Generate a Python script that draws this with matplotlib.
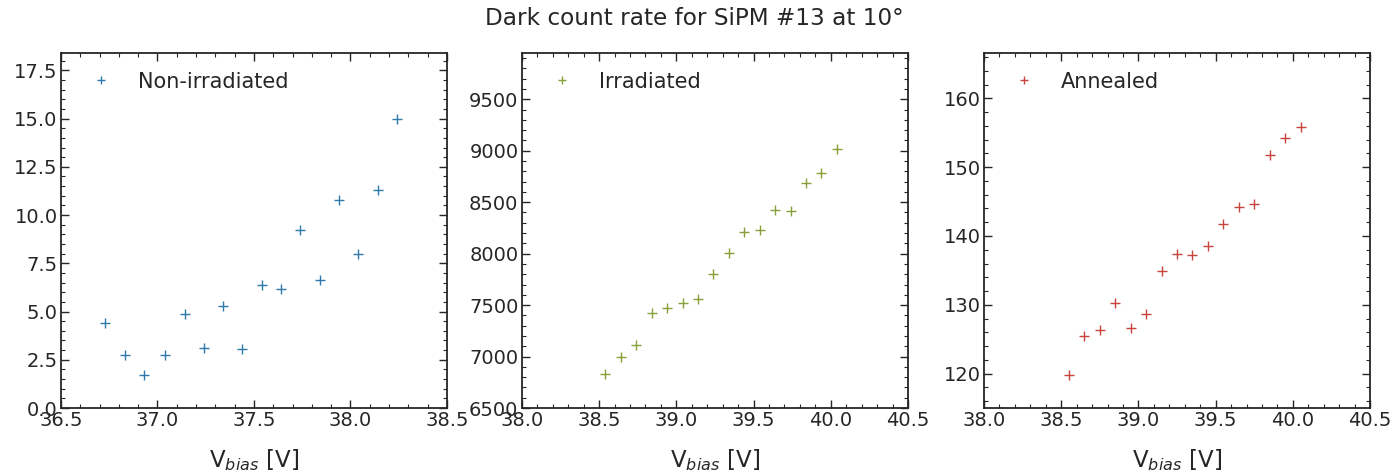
import matplotlib
matplotlib.use("Agg")
import matplotlib.pyplot as plt
from matplotlib.ticker import AutoMinorLocator

title = "Dark count rate for SiPM #13 at 10°"
xlabel = "V$_{bias}$ [V]"

x_non = [36.73, 36.83, 36.93, 37.04, 37.14, 37.24, 37.34, 37.44,
         37.54, 37.64, 37.74, 37.84, 37.94, 38.04, 38.14, 38.24]
y_non = [4.4, 2.75, 1.7, 2.75, 4.85, 3.1, 5.3, 3.05,
         6.35, 6.15, 9.2, 6.65, 10.8, 8.0, 11.3, 15.0]

x_irr = [38.54, 38.64, 38.74, 38.84, 38.94, 39.04, 39.14, 39.24,
         39.34, 39.44, 39.54, 39.64, 39.74, 39.84, 39.94, 40.04]
y_irr = [6830, 7000, 7110, 7420, 7470, 7520, 7560, 7800,
         8010, 8210, 8230, 8420, 8410, 8690, 8780, 9020]

x_ann = [38.55, 38.65, 38.75, 38.85, 38.95, 39.05, 39.15, 39.25,
         39.35, 39.45, 39.55, 39.65, 39.75, 39.85, 39.95, 40.05]
y_ann = [119.8, 125.4, 126.4, 130.2, 126.7, 128.7, 134.9, 137.4,
         137.2, 138.5, 141.8, 144.2, 144.6, 151.7, 154.3, 155.9]

labels = ["Non-irradiated", "Irradiated", "Annealed"]
colors = ["#2f7aab", "#87a03c", "#c9453c"]
xlims = [(36.5, 38.5), (38.0, 40.5), (38.0, 40.5)]
ylims = [(0, 18.4), (6500, 9950), (115, 166.6)]

FS_TICK = 14
FS_LEG = 15
FS_LAB = 16.5
FS_TITLE = 16.7
TXT = '#262626'
plt.rcParams['font.family'] = ['DejaVu Sans']

fig = plt.figure(figsize=(13.99, 4.73), dpi=100)
lefts = [0.0436, 0.3731, 0.7034]
width = 0.2759
bottom = 0.1374
height = 0.888 - 0.1374

data = [(x_non, y_non), (x_irr, y_irr), (x_ann, y_ann)]
for i, ((xs, ys), lab, col) in enumerate(zip(data, labels, colors)):
    ax = fig.add_axes([lefts[i], bottom, width, height])
    ax.plot(xs, ys, linestyle='none', marker='+', color=col, markersize=7,
            markeredgewidth=1.0, label=lab)
    ax.set_xlim(*xlims[i])
    ax.set_ylim(*ylims[i])
    ax.xaxis.set_minor_locator(AutoMinorLocator(5))
    ax.yaxis.set_minor_locator(AutoMinorLocator(5))
    ax.tick_params(which='both', direction='in', top=True, right=True,
                   labelsize=FS_TICK, colors=TXT, pad=2.5)
    ax.tick_params(which='major', length=6, width=1)
    ax.tick_params(which='minor', length=3, width=0.8)
    for s in ax.spines.values():
        s.set_linewidth(1.3)
        s.set_color(TXT)
    ax.set_xlabel(xlabel, fontsize=FS_LAB, color=TXT, labelpad=12)
    leg = ax.legend(loc='upper left', frameon=False, fontsize=FS_LEG,
                    markerscale=0.85)
    for t in leg.get_texts():
        t.set_color(TXT)

fig.suptitle(title, fontsize=FS_TITLE, x=0.496, y=0.985, color=TXT)
fig.savefig("out.png", dpi=100)
